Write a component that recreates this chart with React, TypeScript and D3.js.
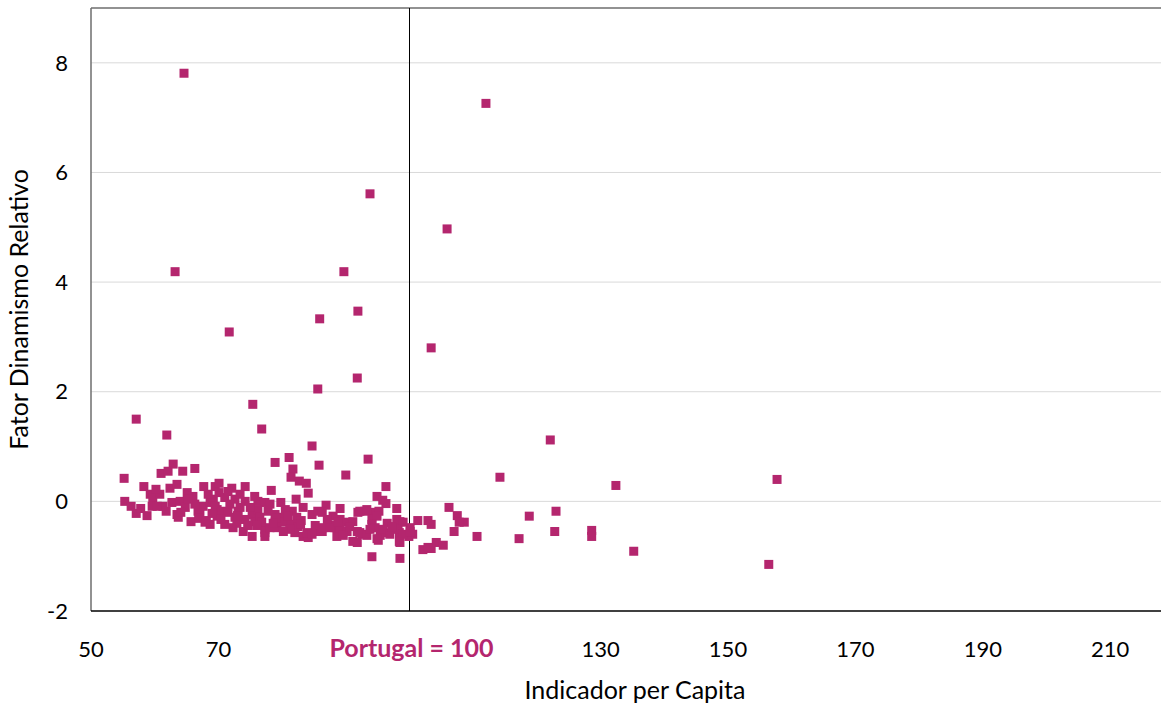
import React, { useEffect, useRef } from 'react';
import * as d3 from "d3";

// Indicador per Capita (Portugal = 100)
const xValues = [
  64.6, 112.0, 93.8, 105.9, 63.2, 89.7, 85.9, 91.9, 71.7, 103.4,
  91.8, 85.6, 75.4, 76.8, 57.1, 61.9, 122.1, 84.7, 93.5, 81.1,
  78.9, 90.0, 85.8, 114.2, 157.7, 132.4, 55.2, 66.3, 62.9, 96.3,
  81.7, 74.2, 106.2, 118.8, 123.0, 122.8, 128.6, 128.6, 117.2, 110.6,
  135.2, 156.4, 98.5, 94.1, 107.5, 108.6, 107.8, 107.0, 101.3, 102.9,
  103.4, 100.1, 100.5, 99.9, 104.2, 105.3, 103.4, 102.1, 98.5, 98.0,
  61.0, 62.1, 64.4, 81.4, 82.7, 83.8, 78.3, 58.3, 59.3, 59.7,
  62.4, 63.5, 67.7, 69.5, 70.1, 72.1, 84.1, 82.2, 94.9, 95.8,
  96.3, 55.3, 56.3, 57.1, 58.8, 57.8, 59.6, 61.3, 62.7, 64.0,
  65.7, 67.9, 72.3, 73.9, 77.3, 79.2, 79.7, 81.6, 82.3, 83.3,
  86.9, 89.1, 91.9, 93.0, 94.3, 95.2, 82.0, 83.3, 84.1, 85.9,
  87.5, 88.3, 89.1, 90.2, 91.8, 92.5, 88.6, 91.1, 91.8, 95.1,
  95.4, 96.5, 96.6, 98.4, 98.4, 85.2, 80.5, 65.1, 66.0, 63.5,
  63.7, 68.7, 66.8, 67.6, 68.7, 69.2, 69.8, 69.8, 60.4, 70.1,
  71.0, 72.6, 74.2, 76.2, 77.3, 79.8, 69.5, 70.6, 71.5, 73.1,
  75.3, 76.2, 77.8, 84.7, 85.6, 71.0, 75.7, 77.3, 78.9, 80.0,
  81.6, 82.5, 83.9, 86.3, 77.3, 84.7, 75.3, 86.3, 88.0, 91.1,
  94.1, 94.9, 98.0, 99.0, 86.4, 87.5, 89.1, 90.2, 92.2, 93.3,
  94.1, 94.6, 95.8, 98.2, 99.0, 100.1, 89.6, 94.9, 96.9, 98.5,
  102.9, 92.2, 93.3, 64.8, 66.3, 67.1, 71.8, 73.4, 75.0, 76.5,
  78.1, 78.9, 80.5, 74.2, 72.6, 65.2, 61.8, 60.8, 60.2, 68.4,
  71.5, 73.4, 75.7, 76.8, 78.1, 81.2,
  66.9, 68.1, 70.4, 72.9, 74.6, 79.0, 80.9, 83.0, 87.1, 90.6,
  64.1, 69.0, 73.0, 76.0, 78.6, 80.2, 82.9, 88.8, 93.8, 97.3
];

// Fator Dinamismo Relativo
const yValues = [
  7.81, 7.26, 5.61, 4.97, 4.19, 4.19, 3.33, 3.47, 3.09, 2.80,
  2.25, 2.05, 1.77, 1.32, 1.50, 1.21, 1.12, 1.01, 0.77, 0.80,
  0.71, 0.48, 0.66, 0.44, 0.40, 0.29, 0.42, 0.60, 0.68, 0.27,
  0.59, 0.27, -0.11, -0.27, -0.18, -0.55, -0.53, -0.64, -0.68, -0.64,
  -0.91, -1.15, -1.04, -1.01, -0.26, -0.38, -0.38, -0.55, -0.35, -0.35,
  -0.42, -0.48, -0.60, -0.64, -0.75, -0.80, -0.86, -0.88, -0.37, -0.13,
  0.51, 0.55, 0.55, 0.44, 0.37, 0.33, 0.20, 0.27, 0.13, 0.07,
  0.24, 0.31, 0.27, 0.27, 0.33, 0.24, 0.15, 0.04, 0.09, 0.02,
  -0.04, 0.00, -0.09, -0.22, -0.26, -0.13, -0.09, -0.09, -0.02, 0.00,
  -0.37, -0.38, -0.48, -0.55, -0.57, -0.48, -0.29, -0.18, -0.29, -0.11,
  -0.07, -0.13, -0.20, -0.18, -0.20, -0.18, -0.57, -0.64, -0.66, -0.55,
  -0.44, -0.48, -0.33, -0.38, -0.55, -0.60, -0.64, -0.73, -0.75, -0.71,
  -0.62, -0.40, -0.57, -0.57, -0.73, -0.44, -0.38, 0.16, 0.09, -0.24,
  -0.29, -0.42, -0.18, -0.09, -0.02, 0.04, -0.15, -0.27, -0.09, 0.16,
  0.07, 0.04, 0.00, 0.00, -0.02, -0.02, -0.09, -0.18, -0.20, -0.18,
  -0.24, -0.15, -0.18, -0.24, -0.18, -0.42, -0.37, -0.51, -0.38, -0.37,
  -0.42, -0.46, -0.57, -0.55, -0.64, -0.60, -0.64, -0.20, -0.27, -0.37,
  -0.33, -0.27, -0.33, -0.38, -0.48, -0.48, -0.48, -0.55, -0.57, -0.62,
  -0.42, -0.48, -0.51, -0.51, -0.60, -0.55, -0.62, -0.68, -0.60, -0.75,
  -0.84, -0.18, -0.15, -0.11, -0.05, -0.24, -0.05, -0.11, -0.11, -0.29,
  -0.05, -0.24, -0.15, -0.33, -0.29, 0.04, -0.18, 0.13, 0.22, 0.13,
  0.18, 0.13, 0.09, -0.38, -0.48, -0.51,
  -0.31, -0.35, -0.33, -0.40, -0.44, -0.31, -0.27, -0.35, -0.33, -0.46,
  -0.20, -0.22, -0.26, -0.44, -0.40, -0.55, -0.42, -0.38, -0.51, -0.46
];

const xTicks = [50, 70, 130, 150, 170, 190, 210];
const yTicks = [-2, 0, 2, 4, 6, 8];
const portugal = 100;

function App() {
  const ref = useRef(null);

  useEffect(() => {
    const width = 1161, height = 708;
    const margin = { top: 8, left: 91, bottom: 97 };
    const color = "#b4266e";
    const font = "Lato, 'Open Sans', sans-serif";

    const svg = d3.select(ref.current);
    svg.selectAll("*").remove();

    const x = d3.scaleLinear()
      .domain([50, 220])
      .range([margin.left, margin.left + 170 * 6.37]);

    const y = d3.scaleLinear()
      .domain([-2, 9])
      .range([height - margin.bottom, margin.top]);

    // grid lines
    svg.append("g")
      .selectAll("line")
      .data(yTicks.filter(d => d > -2))
      .join("line")
      .attr("x1", x(50))
      .attr("x2", width)
      .attr("y1", d => y(d))
      .attr("y2", d => y(d))
      .attr("stroke", "#d9d9d9")
      .attr("stroke-width", 1);

    // plot border (top + left), bottom axis
    svg.append("line")
      .attr("x1", x(50)).attr("x2", width)
      .attr("y1", y(9)).attr("y2", y(9))
      .attr("stroke", "#6e6e6e").attr("stroke-width", 1.5);
    svg.append("line")
      .attr("x1", x(50)).attr("x2", x(50))
      .attr("y1", y(9)).attr("y2", y(-2))
      .attr("stroke", "#6e6e6e").attr("stroke-width", 1.5);
    svg.append("line")
      .attr("x1", x(50)).attr("x2", width)
      .attr("y1", y(-2)).attr("y2", y(-2))
      .attr("stroke", "#000").attr("stroke-width", 1.5);

    // Portugal = 100 reference line
    svg.append("line")
      .attr("x1", x(portugal)).attr("x2", x(portugal))
      .attr("y1", y(9)).attr("y2", y(-2))
      .attr("stroke", "#000").attr("stroke-width", 1);

    const points = xValues.map((v, i) => ({ x: v, y: yValues[i] }));

    svg.append("g")
      .attr("fill", color)
      .selectAll("rect")
      .data(points)
      .join("rect")
      .attr("x", d => x(d.x) - 4.5)
      .attr("y", d => y(d.y) - 4.5)
      .attr("width", 9)
      .attr("height", 9);

    // y tick labels
    svg.append("g")
      .selectAll("text")
      .data(yTicks)
      .join("text")
      .attr("x", 68)
      .attr("y", d => y(d))
      .attr("dy", "0.35em")
      .attr("text-anchor", "end")
      .attr("font-family", font)
      .attr("font-size", 22)
      .attr("fill", "#000")
      .text(d => d);

    // x tick labels
    svg.append("g")
      .selectAll("text")
      .data(xTicks)
      .join("text")
      .attr("x", d => x(d))
      .attr("y", 657)
      .attr("text-anchor", "middle")
      .attr("font-family", font)
      .attr("font-size", 22)
      .attr("fill", "#000")
      .text(d => d);

    svg.append("text")
      .attr("x", x(portugal) + 2)
      .attr("y", 657)
      .attr("text-anchor", "middle")
      .attr("font-family", font)
      .attr("font-weight", "bold")
      .attr("font-size", 25)
      .attr("fill", color)
      .text("Portugal = 100");

    svg.append("text")
      .attr("x", 635)
      .attr("y", 699)
      .attr("text-anchor", "middle")
      .attr("font-family", font)
      .attr("font-size", 25)
      .attr("fill", "#000")
      .text("Indicador per Capita");

    svg.append("text")
      .attr("transform", `translate(28,${y(3.5)}) rotate(-90)`)
      .attr("text-anchor", "middle")
      .attr("font-family", font)
      .attr("font-size", 25)
      .attr("fill", "#000")
      .text("Fator Dinamismo Relativo");
  }, []);

  return (
    <svg ref={ref} width={1161} height={708}
      style={{ position: "absolute", left: 0, top: 0, background: "#fff" }} />
  );
}

export default App;
